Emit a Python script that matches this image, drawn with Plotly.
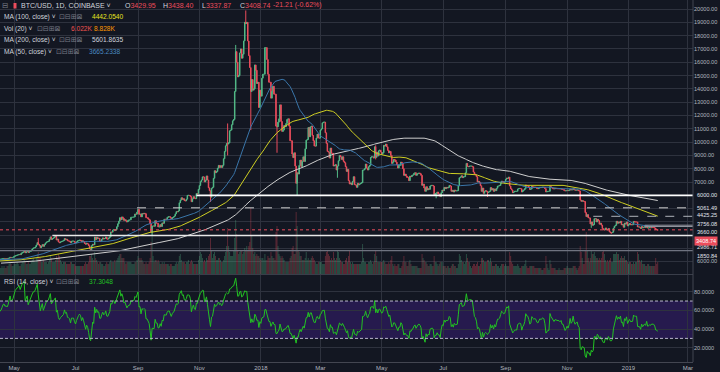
import pandas as pd
import numpy as np
import plotly.graph_objects as go

# ---------------- daily closes (USD), one list per month ----------------
c_2016_10 = [613,610,611,612,609,612,617,618,617,618,640,636,636,637,638,639,641,637,635,629,632,656,657,652,651,657,680,687,714,697,701]
c_2016_11 = [729,739,688,703,704,710,707,709,721,716,714,705,702,704,712,743,738,746,750,729,738,751,741,740,735,733,729,733,733,743]
c_2016_12 = [755,771,768,764,754,760,764,770,772,777,770,780,780,778,776,782,789,792,791,800,832,862,918,894,893,898,925,974,972,960,963]
c_2017_01 = [997,1015,1130,1025,990,890,900,905,900,785,805,825,830,820,830,825,905,875,895,892,920,920,920,895,895,915,920,920,915,920,965]
c_2017_02 = [985,1005,1020,1040,1020,1065,1055,988,995,998,1010,1000,990,1015,1010,1035,1055,1060,1055,1090,1115,1125,1180,1175,1175,1150,1190,1190]
c_2017_03 = [1230,1255,1285,1265,1270,1280,1235,1160,1190,1110,1180,1230,1245,1250,1255,1170,1070,965,1020,1045,1110,1040,1030,960,965,960,1040,1045,1045,1035,1080]
c_2017_04 = [1090,1100,1150,1140,1130,1195,1195,1180,1205,1210,1220,1200,1170,1180,1185,1185,1205,1210,1230,1255,1260,1250,1255,1250,1265,1290,1345,1325,1330,1350]
c_2017_05 = [1420,1455,1485,1515,1530,1560,1545,1650,1700,1750,1810,1680,1760,1790,1710,1775,1800,1880,1975,2050,2055,2125,2270,2450,2320,2230,2070,2180,2300,2170,2300]
c_2017_06 = [2410,2490,2520,2550,2700,2880,2680,2750,2800,2870,2960,2640,2710,2500,2440,2500,2540,2560,2600,2750,2670,2700,2580,2570,2550,2440,2560,2560,2560,2480]
c_2017_07 = [2430,2500,2580,2610,2640,2610,2520,2580,2520,2380,2330,2400,2350,2220,1975,1920,2220,2320,2280,2860,2680,2850,2750,2780,2560,2560,2700,2800,2720,2760,2870]
c_2017_08 = [2720,2710,2800,2880,3250,3230,3390,3420,3350,3430,3640,3860,4060,4320,4160,4380,4290,4120,4170,4080,4000,4100,4150,4160,4350,4350,4360,4380,4600,4580,4740]
c_2017_09 = [4950,4580,4600,4380,4630,4600,4650,4620,4320,4320,4230,4160,3870,3240,3700,3700,3680,4100,3900,3900,3620,3630,3800,3660,3930,3900,4210,4200,4190,4340]
c_2017_10 = [4400,4400,4320,4220,4330,4370,4440,4610,4780,4760,4830,5440,5640,5820,5690,5740,5600,5580,5710,6000,6000,5990,5910,5520,5740,5900,5770,5750,6140,6130,6450]
c_2017_11 = [6740,7030,7160,7390,7380,7010,7140,7460,7150,6570,6350,5860,6530,6600,7280,7850,7700,7790,8040,8250,8100,8230,8100,8250,8750,9300,9720,9900,9850,9950]
c_2017_12 = [10850,10900,11300,11600,11700,13800,16800,16000,14900,15000,16700,17000,16300,16600,17600,19000,18900,19000,17600,16500,15600,13800,14700,13900,14000,15800,15400,14400,14500,12600,13900]
c_2018_01 = [13450,14800,15100,15100,17100,17100,16200,15100,14500,14500,13300,13800,14200,13600,13600,11200,11150,11500,11750,12800,11550,10800,10900,11250,11150,11400,11700,11750,11200,10100,10100]
c_2018_02 = [9100,8830,9200,8200,6900,7700,7600,8250,8650,8150,8550,8900,8550,9500,10150,10200,11100,10400,11150,11200,10500,10100,9700,9700,10300,10600,10300,10300]
c_2018_03 = [10900,11000,11450,11500,11500,10700,9900,9300,9250,8800,9550,9150,9150,8200,8250,8300,7900,8200,8600,9000,8900,8700,8900,8550,8450,8150,7800,7950,7100,6850,6930]
c_2018_04 = [6800,7050,7400,6800,6780,6600,6900,6780,6850,6900,6950,7900,7900,8000,8350,8050,7900,8150,8250,8850,8900,8900,8800,9650,8850,9250,8950,9350,9400,9250]
c_2018_05 = [9100,9200,9750,9700,9850,9650,9380,9200,9300,9000,8400,8500,8700,8650,8500,8300,8050,8250,8250,8500,8400,8000,7500,7600,7450,7350,7350,7100,7450,7400,7500]
c_2018_06 = [7530,7650,7700,7500,7600,7650,7680,7620,7500,6750,6850,6550,6300,6650,6400,6500,6450,6700,6750,6750,6700,6050,6150,6150,6250,6100,6100,5900,6200,6400]
c_2018_07 = [6350,6600,6500,6600,6550,6600,6750,6700,6300,6380,6250,6400,6330,6340,6350,6720,7320,7370,7470,7330,7400,7400,7700,8400,8170,8150,8200,8200,8200,8150,7750]
c_2018_08 = [7600,7550,7400,7000,7050,6950,6720,6300,6550,6150,6300,6350,6300,6200,6250,6300,6580,6400,6500,6300,6480,6350,6530,6700,6700,6740,6900,7070,7030,6980,7000]
c_2018_09 = [7200,7300,7270,7370,6700,6500,6400,6200,6250,6300,6300,6300,6480,6500,6520,6500,6250,6350,6400,6500,6780,6710,6700,6600,6440,6470,6680,6630,6600,6620]
c_2018_10 = [6600,6520,6500,6550,6600,6580,6600,6620,6600,6500,6250,6280,6300,6300,6670,6600,6560,6500,6480,6520,6510,6500,6500,6500,6480,6500,6440,6440,6370,6330,6350]
c_2018_11 = [6380,6350,6390,6470,6400,6420,6500,6420,6380,6400,6410,6350,6330,5650,5550,5600,5550,5530,4700,4400,4550,4300,4300,3850,4000,3750,3800,4250,4250,4000]
c_2018_12 = [4200,4100,3830,3910,3760,3500,3400,3400,3550,3450,3400,3500,3260,3190,3190,3230,3540,3690,3750,4050,3900,4000,3930,4050,3780,3800,3600,3920,3840,4000,3700]
c_2019_01 = [3810,3880,3780,3800,3790,4040,4000,4000,4000,3625,3630,3610,3510,3660,3560,3600,3640,3590,3700,3540,3550,3580,3560,3590,3580,3580,3540,3440,3430,3408.74]

# last (current) candle
last_open, last_high, last_low = 3429.95, 3438.40, 3337.87

# notable wicks (date, high, low)
wick_days = ["2017-05-25","2017-07-16","2017-09-15","2017-11-12","2017-11-29","2017-12-07","2017-12-17","2017-12-22","2018-01-17","2018-02-06","2018-03-18","2018-04-25","2018-06-24","2018-08-14","2018-11-25","2018-12-15"]
wick_hi = [2790,None,None,None,11400,17300,19890,None,None,None,None,9760,None,None,None,None]
wick_lo = [None,1830,2970,5500,9000,None,None,10900,9200,6000,7320,8700,5780,5880,3560,3120]

# ---------------- volume (thousand BTC), one list per month ----------------
v_2017_04 = [3,3,4,3,4,3,3,4,4,5,6,5,4,4]
v_2017_05 = [5,5,5,6,5,4,4,5,6,6,7,6,5,5,6,5,5,6,7,8,6,6,8,10,11,8,8,6,6,7,6]
v_2017_06 = [6,6,5,6,7,9,8,6,6,6,7,9,8,10,9,7,6,5,6,6,6,5,5,5,5,6,6,5,5,5]
v_2017_07 = [4,4,4,4,4,4,4,4,4,5,6,5,5,6,9,9,10,8,7,11,8,7,6,5,6,6,5,5,4,4,5]
v_2017_08 = [6,5,5,6,7,6,6,6,7,6,7,8,9,10,10,8,8,8,6,5,6,6,6,6,6,5,5,5,6,6,7]
v_2017_09 = [9,8,7,8,7,6,5,5,6,5,5,6,8,16,22,9,6,7,7,6,7,6,5,5,6,5,6,5,5,5]
v_2017_10 = [5,4,5,5,4,4,4,5,6,5,6,9,10,7,6,6,6,5,6,6,7,5,6,7,6,5,5,5,5,5,7]
v_2017_11 = [9,11,10,8,6,7,6,8,7,9,10,18,12,8,10,11,9,7,7,8,8,7,6,6,7,9,11,14,23,14]
v_2017_12 = [11,9,9,9,12,18,27,20,12,10,11,12,12,10,11,13,12,14,12,14,16,33,19,13,10,11,9,10,9,9,8]
v_2018_01 = [7,8,8,7,10,7,7,9,8,8,11,9,8,8,7,21,24,14,10,9,8,9,8,7,6,6,6,6,6,8,9]
v_2018_02 = [13,14,10,10,31,24,12,11,9,9,7,7,7,8,11,7,8,7,7,8,9,8,7,6,5,5,6,6]
v_2018_03 = [6,6,5,5,5,9,11,12,10,9,7,8,7,11,8,7,8,12,11,8,7,6,6,5,5,7,8,6,9,12,6]
v_2018_04 = [5,6,5,5,5,5,5,5,5,5,6,15,8,6,6,5,5,6,6,7,6,5,6,10,12,9,6,6,6,6]
v_2018_05 = [6,6,7,6,5,5,5,6,5,7,9,5,4,5,4,4,5,5,3,3,4,6,9,6,6,4,4,6,7,5,4]
v_2018_06 = [4,4,4,4,4,3,3,3,3,10,8,7,6,6,5,4,4,5,5,4,4,9,6,6,5,4,5,6,6,6]
v_2018_07 = [4,4,4,3,4,4,3,3,4,5,5,4,4,3,3,5,10,9,7,6,6,5,6,10,8,6,6,4,3,4,5]
v_2018_08 = [5,4,5,6,4,4,5,8,8,7,6,6,6,7,7,6,8,6,4,4,4,5,5,4,4,3,4,5,5,5,4]
v_2018_09 = [5,4,4,4,11,9,6,5,4,4,4,4,5,4,3,3,4,4,4,5,7,4,3,3,4,4,4,4,4,3]
v_2018_10 = [3,3,3,3,3,3,2,2,3,3,9,5,3,2,7,5,3,3,3,3,2,2,2,3,2,2,2,2,3,3,3]
v_2018_11 = [4,3,3,3,3,3,4,4,4,3,2,3,4,14,11,8,5,5,12,21,12,8,6,8,12,10,10,11,9,8]
v_2018_12 = [8,7,8,7,8,11,12,10,7,6,7,6,7,8,6,6,10,10,10,11,10,10,7,8,9,8,8,9,7,7,6]
v_2019_01 = [5,6,6,5,5,6,5,6,6,11,10,7,6,7,5,5,5,4,4,5,5,4,4,4,4,4,4,8,5,6]

# horizontal levels drawn on the chart
level_price = [6000.00, 5061.49, 4425.25, 3756.08, 3660.00, 2986.71, 1850.84]
level_start = ["2017-10-29", "2017-08-31", "2018-11-27", "2019-01-17", "2019-01-17", "2017-06-08", "2017-01-01"]
level_color = ["#ffffff", "#d0d0d0", "#b0b3bb", "#9598a1", "#9598a1", "#e8e8e8", "#6f7380"]
level_dash = ["solid", "dash", "dash", "solid", "solid", "solid", "solid"]
level_width = [1.6, 1, 1, 1, 1, 1.4, 1.2]

# axis labels
x_tickvals = ["2017-05-01","2017-07-01","2017-09-01","2017-11-01","2018-01-01","2018-03-01",
              "2018-05-01","2018-07-01","2018-09-01","2018-11-01","2019-01-01","2019-03-01"]
x_ticktext = ["May","Jul","Sep","Nov","2018","Mar","May","Jul","Sep","Nov","2019","Mar"]
price_ticks = list(range(1000, 20001, 1000))
rsi_ticks = [20, 40, 60, 80]

# side labels (text, value, pixel shift)
price_labels = [("6000.00", 6000.00, 0), ("5061.49", 5061.49, 0), ("4425.25", 4425.25, 1),
                ("3756.08", 3756.08, 1), ("3660.00", 3660.00, -6), ("2986.71", 2986.71, -12),
                ("1850.84", 1850.84, -5)]

# ---------------- build series ----------------
close_months = [("2016-10-01", c_2016_10), ("2016-11-01", c_2016_11), ("2016-12-01", c_2016_12),
                ("2017-01-01", c_2017_01), ("2017-02-01", c_2017_02), ("2017-03-01", c_2017_03),
                ("2017-04-01", c_2017_04), ("2017-05-01", c_2017_05), ("2017-06-01", c_2017_06),
                ("2017-07-01", c_2017_07), ("2017-08-01", c_2017_08), ("2017-09-01", c_2017_09),
                ("2017-10-01", c_2017_10), ("2017-11-01", c_2017_11), ("2017-12-01", c_2017_12),
                ("2018-01-01", c_2018_01), ("2018-02-01", c_2018_02), ("2018-03-01", c_2018_03),
                ("2018-04-01", c_2018_04), ("2018-05-01", c_2018_05), ("2018-06-01", c_2018_06),
                ("2018-07-01", c_2018_07), ("2018-08-01", c_2018_08), ("2018-09-01", c_2018_09),
                ("2018-10-01", c_2018_10), ("2018-11-01", c_2018_11), ("2018-12-01", c_2018_12),
                ("2019-01-01", c_2019_01)]
vol_months = [("2017-04-17", v_2017_04), ("2017-05-01", v_2017_05), ("2017-06-01", v_2017_06),
              ("2017-07-01", v_2017_07), ("2017-08-01", v_2017_08), ("2017-09-01", v_2017_09),
              ("2017-10-01", v_2017_10), ("2017-11-01", v_2017_11), ("2017-12-01", v_2017_12),
              ("2018-01-01", v_2018_01), ("2018-02-01", v_2018_02), ("2018-03-01", v_2018_03),
              ("2018-04-01", v_2018_04), ("2018-05-01", v_2018_05), ("2018-06-01", v_2018_06),
              ("2018-07-01", v_2018_07), ("2018-08-01", v_2018_08), ("2018-09-01", v_2018_09),
              ("2018-10-01", v_2018_10), ("2018-11-01", v_2018_11), ("2018-12-01", v_2018_12),
              ("2019-01-01", v_2019_01)]


def build(parts):
    out = []
    for start, vals in parts:
        idx = pd.date_range(start, periods=len(vals), freq="D")
        out.append(pd.Series(vals, index=idx, dtype=float))
    s = pd.concat(out)
    return s[~s.index.duplicated()]


close = build(close_months)
vol = build(vol_months) * 1000.0

open_ = close.shift(1)
open_.iloc[0] = close.iloc[0]
open_.iloc[-1] = last_open
high = pd.concat([open_, close], axis=1).max(axis=1)
low = pd.concat([open_, close], axis=1).min(axis=1)
high.iloc[-1] = last_high
low.iloc[-1] = last_low
for d, h, l in zip(wick_days, wick_hi, wick_lo):
    t = pd.Timestamp(d)
    if h is not None:
        high[t] = max(high[t], h)
    if l is not None:
        low[t] = min(low[t], l)

ma50 = close.rolling(50).mean()
ma100 = close.rolling(100).mean()
ma200 = close.rolling(200).mean()

delta = close.diff()
gain = delta.clip(lower=0)
loss = -delta.clip(upper=0)
ag = gain.ewm(alpha=1 / 14, adjust=False).mean()
al = loss.ewm(alpha=1 / 14, adjust=False).mean()
rsi = 100 - 100 / (1 + ag / al)

vis = close.index >= pd.Timestamp("2017-04-08")
cd = close[vis]

up_c = "#53b987"
dn_c = "#eb4d5c"
vol_up = (close.reindex(vol.index) >= open_.reindex(vol.index))
vol_colors = ["rgba(83,185,135,0.38)" if u else "rgba(235,77,92,0.38)" for u in vol_up]

BG = "#131722"
GRID = "#2e323e"
TXT = "#b2b5be"
FONT = "Liberation Sans"
PW, PH = 693.0, 362.0

fig = go.Figure()

# volume (base axis of the price pane)
fig.add_trace(go.Bar(x=vol.index, y=vol.values, marker=dict(color=vol_colors, line=dict(width=0)),
                     xaxis="x", yaxis="y", hoverinfo="skip"))

# moving averages
fig.add_trace(go.Scatter(x=cd.index, y=ma200[vis], mode="lines", line=dict(color="#cfcfcf", width=1),
                         xaxis="x", yaxis="y3", hoverinfo="skip"))
fig.add_trace(go.Scatter(x=cd.index, y=ma100[vis], mode="lines", line=dict(color="#cfcf22", width=1),
                         xaxis="x", yaxis="y3", hoverinfo="skip"))
fig.add_trace(go.Scatter(x=cd.index, y=ma50[vis], mode="lines", line=dict(color="#3a76aa", width=1),
                         xaxis="x", yaxis="y3", hoverinfo="skip"))

# candles
fig.add_trace(go.Candlestick(x=cd.index, open=open_[vis], high=high[vis], low=low[vis], close=cd,
                             increasing=dict(line=dict(color=up_c, width=1), fillcolor=up_c),
                             decreasing=dict(line=dict(color=dn_c, width=1), fillcolor=dn_c),
                             whiskerwidth=0, xaxis="x", yaxis="y3", hoverinfo="skip"))

# RSI
fig.add_trace(go.Scatter(x=cd.index, y=rsi[vis], mode="lines", line=dict(color="#22c322", width=1),
                         xaxis="x2", yaxis="y2", hoverinfo="skip"))

shapes = []
# RSI band + levels
shapes.append(dict(type="rect", xref="x2 domain", yref="y2", x0=0, x1=1, y0=30, y1=70,
                   fillcolor="#261a4e", line=dict(width=0), layer="below"))
for lv in (70, 30):
    shapes.append(dict(type="line", xref="x2 domain", yref="y2", x0=0, x1=1, y0=lv, y1=lv,
                       line=dict(color="#b9b6cc", width=1, dash="3px,2px")))
# price levels
for p, s, c, d, w in zip(level_price, level_start, level_color, level_dash, level_width):
    shapes.append(dict(type="line", xref="x", yref="y3", x0=s, x1="2019-03-06", y0=p, y1=p,
                       line=dict(color=c, width=w, dash=d)))
# current price line
last_close = float(close.iloc[-1])
shapes.append(dict(type="line", xref="paper", yref="y3", x0=0, x1=1, y0=last_close, y1=last_close,
                   line=dict(color=dn_c, width=1, dash="dot")))
# price scale border
shapes.append(dict(type="line", xref="paper", yref="paper", x0=1, x1=1, y0=0, y1=1,
                   line=dict(color="#434651", width=1)))
# red symbol marker in header
shapes.append(dict(type="rect", xref="paper", yref="paper", x0=13.5 / PW, x1=16.5 / PW,
                   y0=1 - 8.5 / PH, y1=1 - 3 / PH, fillcolor=dn_c, line=dict(width=0)))


def txt(px, py, s, color, size=6.6, family=FONT):
    return dict(xref="paper", yref="paper", x=px / PW, y=1 - py / PH, text=s, showarrow=False,
                xanchor="left", yanchor="middle", font=dict(size=size, color=color, family=family),
                borderpad=0)


W = "#d1d4dc"
ICONS = "⊡⊟⊞⊠"
ann = []
ann.append(txt(0.5, 5.5, "⊟", "#787b86", 7.5, "DejaVu Sans"))
ann.append(txt(19.5, 5.5, "BTC/USD, 1D, COINBASE ˅", W, 7))
chg = last_close - last_open
ann.append(txt(123.5, 5.5, f"O<span style='color:{dn_c}'>{last_open:.2f}</span>", W, 7))
ann.append(txt(161.5, 5.5, f"H<span style='color:{dn_c}'>{last_high:.2f}</span>", W, 7))
ann.append(txt(200.5, 5.5, f"L<span style='color:{dn_c}'>{last_low:.2f}</span>", W, 7))
ann.append(txt(239.5, 5.5, f"C<span style='color:{dn_c}'>{last_close:.2f}</span>", W, 7))
ann.append(txt(271.5, 5.5, f"{chg:.2f} ({chg / last_open * 100:.2f}%)", dn_c, 7))

ann.append(txt(2.5, 16.8, "MA (100, close) ˅", W))
ann.append(txt(57.5, 16.8, ICONS, "#787b86", 7, "DejaVu Sans"))
ann.append(txt(91, 16.8, "4442.0540", "#e6e620"))
ann.append(txt(2.5, 28.6, "Vol (20) ˅", W))
ann.append(txt(35.5, 28.6, ICONS, "#787b86", 7, "DejaVu Sans"))
ann.append(txt(70, 28.6, "6.022K", "#ef5350"))
ann.append(txt(93, 28.6, "8.828K", "#ff9800"))
ann.append(txt(2.5, 40, "MA (200, close) ˅", W))
ann.append(txt(57.5, 40, ICONS, "#787b86", 7, "DejaVu Sans"))
ann.append(txt(91, 40, "5601.8635", W))
ann.append(txt(2.5, 51.6, "MA (50, close) ˅", W))
ann.append(txt(54.5, 51.6, ICONS, "#787b86", 7, "DejaVu Sans"))
ann.append(txt(88, 51.6, "3665.2338", "#4a8ac0"))
ann.append(txt(2.5, 281.5, "RSI (14, close) ˅", W))
ann.append(txt(54.5, 281.5, ICONS, "#787b86", 7, "DejaVu Sans"))
ann.append(txt(88, 281.5, "37.3048", "#22c322"))

for s, v, sh in price_labels:
    ann.append(dict(xref="paper", yref="y3", x=1, y=v, xshift=2.5, yshift=sh, text=s, showarrow=False,
                    xanchor="left", yanchor="middle", borderpad=0,
                    font=dict(size=5.6, color="#e0e3eb", family=FONT)))
ann.append(dict(xref="paper", yref="y3", x=1, y=last_close, xshift=1, yshift=-11,
                text=f"{last_close:.2f}", showarrow=False, xanchor="left", yanchor="middle",
                bgcolor=dn_c, borderpad=1, font=dict(size=5.6, color="#ffffff", family=FONT)))
ann.append(dict(xref="paper", yref="y", x=1, y=6000, xshift=2.5, yshift=1, text="6000.00",
                showarrow=False, xanchor="left", yanchor="middle", borderpad=0,
                font=dict(size=5.6, color=TXT, family=FONT)))

price_bot = 1 - 274 / PH
rsi_top = 1 - 275 / PH

fig.update_layout(
    width=720, height=372,
    margin=dict(l=0, r=27, t=0, b=10, autoexpand=False),
    paper_bgcolor=BG, plot_bgcolor=BG,
    showlegend=False, hovermode=False, bargap=0.15,
    font=dict(family=FONT, color=TXT, size=6),
    shapes=shapes, annotations=ann,
    xaxis=dict(domain=[0, 1], anchor="y", range=["2017-04-17", "2019-03-06"],
               tickvals=x_tickvals, showticklabels=False, ticks="",
               showgrid=True, gridcolor=GRID, gridwidth=1, zeroline=False,
               showline=True, linecolor="#3a3e4a", linewidth=1, automargin=False,
               rangeslider=dict(visible=False)),
    xaxis2=dict(domain=[0, 1], anchor="y2", matches="x", range=["2017-04-17", "2019-03-06"],
                tickvals=x_tickvals, ticktext=x_ticktext, ticks="",
                tickfont=dict(size=6, color=TXT, family=FONT),
                showgrid=True, gridcolor=GRID, gridwidth=1, zeroline=False,
                showline=True, linecolor="#434651", linewidth=1, automargin=False,
                rangeslider=dict(visible=False)),
    yaxis=dict(domain=[price_bot, 1], anchor="x", range=[0, 137000], showticklabels=False,
               showgrid=False, zeroline=False, ticks="", fixedrange=True, automargin=False),
    yaxis3=dict(overlaying="y", anchor="x", side="right", range=[90, 20676],
                tickvals=price_ticks,
                ticktext=[f"{v:.2f}" if v >= 7000 else "" for v in price_ticks],
                tickfont=dict(size=5.6, color=TXT, family=FONT), ticks="", automargin=False,
                showgrid=True, gridcolor=GRID, gridwidth=1, zeroline=False),
    yaxis2=dict(domain=[0, rsi_top], anchor="x2", side="right", range=[4.7, 97.9],
                tickvals=rsi_ticks, ticktext=[f"{v:.4f}" for v in rsi_ticks],
                tickfont=dict(size=5.6, color=TXT, family=FONT), ticks="", automargin=False,
                showgrid=True, gridcolor=GRID, gridwidth=1, zeroline=False),
)

fig.write_html("out.html", config={"displayModeBar": False, "staticPlot": True},
               post_script="document.body.style.margin='0px';document.body.style.background='#131722';")
